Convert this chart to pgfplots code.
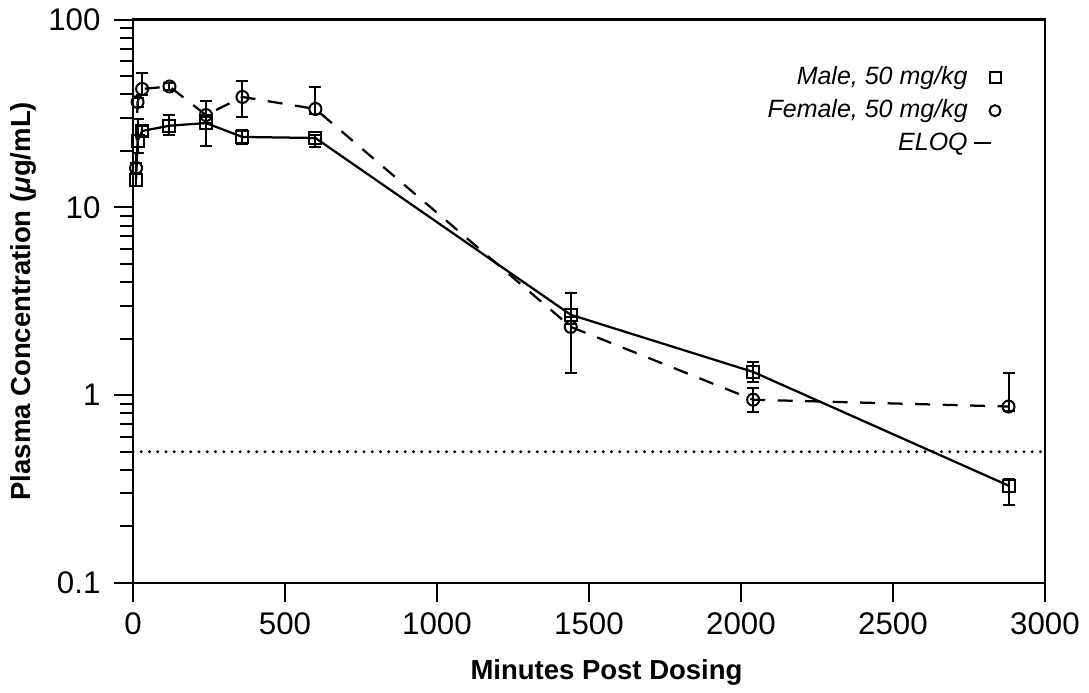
\documentclass[border=0pt]{standalone}
\usepackage{fontspec}
\setmainfont{Liberation Sans}
\usepackage{pgfplots}
\pgfplotsset{compat=1.18}
\begin{document}
\begin{tikzpicture}
\begin{axis}[
  scale only axis,
  width=364.8pt, height=225.4pt,
  ymode=log,
  xmin=0, xmax=3000, ymin=0.1, ymax=100,
  xtick={0,500,1000,1500,2000,2500,3000},
  ytick={0.1,1,10,100},
  yticklabels={0.1,1,10,100},
  tick align=outside,
  xtick pos=left, ytick pos=left,
  major tick length=7.5pt, minor tick length=5pt,
  /pgf/number format/assume math mode=true,
  /pgf/number format/1000 sep={},
  tick label style={font=\fontsize{12.5}{14}\selectfont},
  yticklabel style={xshift=-2pt},
  xticklabel style={yshift=-1pt},
  axis line style={line width=0.9pt},
  every tick/.style={black, line width=0.8pt},
  xlabel={\textbf{Minutes Post Dosing}},
  ylabel={\textbf{Plasma Concentration (\textit{μ}g/mL)}},
  label style={font=\fontsize{11}{13}\selectfont},
  xlabel style={yshift=-3pt, xshift=7pt},
  ylabel style={yshift=-2pt},
  legend style={draw=none, fill=none, at={(0.96,0.935)}, anchor=north east,
    font=\itshape\fontsize{10}{12}\selectfont, row sep=0.5pt},
  legend cell align=right,
  legend plot pos=right,
  clip=false,
  error bars/error bar style={solid, line width=0.8pt},
  error bars/error mark options={solid, rotate=90, mark size=2.4pt, line width=0.8pt},
]
% legend entries
\addlegendimage{only marks, mark=square, mark size=2.2pt, mark options={line width=0.8pt}}
\addlegendentry{Male, 50 mg/kg}
\addlegendimage{only marks, mark=o, mark size=2.2pt, mark options={line width=0.8pt}}
\addlegendentry{Female, 50 mg/kg}
\addlegendimage{legend image code/.code={\draw[line width=0.8pt] (0pt,0pt) -- (7pt,0pt);}}
\addlegendentry{ELOQ}
% ELOQ
\addplot[forget plot, line width=1.3pt, line cap=round, dash pattern=on 0pt off 3.3pt] coordinates {(0,0.5) (3000,0.5)};
% Male
\addplot[forget plot, line width=0.9pt, mark=square, mark size=2.4pt, mark options={solid, fill=white, line width=0.8pt},
  error bars/.cd, y dir=both, y explicit]
coordinates {
(10,14.0) += (0,1.0) -= (0,1.0)
(15,22.5) += (0,7.0) -= (0,3.0)
(30,25.5) += (0,1.5) -= (0,1.5)
(120,27.2) += (0,4.0) -= (0,3.0)
(240,28.1) += (0,3.0) -= (0,7.0)
(360,23.7) += (0,2.0) -= (0,2.0)
(600,23.4) += (0,1.0) -= (0,2.5)
(1440,2.68) += (0,0.8) -= (0,0.3)
(2040,1.33) += (0,0.17) -= (0,0.15)
(2880,0.33) += (0,0.03) -= (0,0.07)
};
% Female
\addplot[forget plot, line width=0.9pt, dash pattern=on 6pt off 5pt, mark=o, mark size=2.4pt, mark options={solid, fill=white, line width=0.8pt},
  error bars/.cd, y dir=both, y explicit]
coordinates {
(10,16.2) += (0,1.0) -= (0,1.0)
(15,36.4) += (0,2.0) -= (0,2.0)
(30,42.7) += (0,9.0) -= (0,3.0)
(120,44.0) += (0,2.0) -= (0,2.0)
(240,31.0) += (0,6.0) -= (0,3.0)
(360,38.7) += (0,8.4) -= (0,8.4)
(600,33.4) += (0,10.3) -= (0,2.0)
(1440,2.31) += (0,0.3) -= (0,1.0)
(2040,0.946) += (0,0.15) -= (0,0.13)
(2880,0.87) += (0,0.45) -= (0,0.05)
};
\coordinate (SW) at (rel axis cs:0,0);
\coordinate (NE) at (rel axis cs:1,1);
\end{axis}
\pgfresetboundingbox
\path[use as bounding box] ([shift={(-53.2pt,-43.6pt)}]SW) rectangle ([shift={(17.6pt,7.8pt)}]NE);
\end{tikzpicture}
\end{document}
